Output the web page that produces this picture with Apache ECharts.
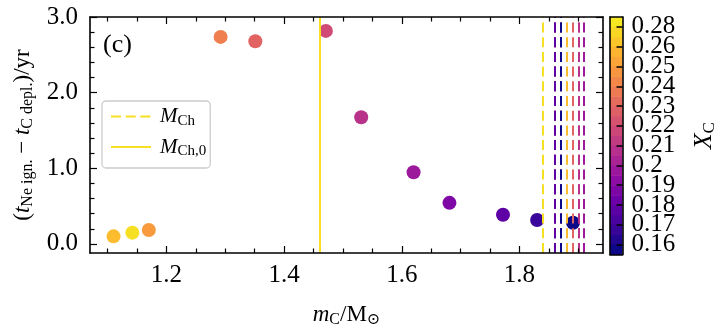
<!DOCTYPE html>
<html>
<head>
<meta charset="utf-8">
<script src="https://cdn.jsdelivr.net/npm/echarts@6/dist/echarts.min.js"></script>
<style>html,body{margin:0;padding:0;background:#fff}#c{width:724px;height:333px}</style>
</head>
<body>
<div id="c"></div>
<script>
// ---- data (one entry per model) ----
const xcValues  = [0.28, 0.26, 0.25, 0.24, 0.23, 0.22, 0.21, 0.20, 0.19, 0.18, 0.17, 0.16];
const mcValues  = [1.142, 1.110, 1.170, 1.292, 1.351, 1.471, 1.531, 1.620, 1.681, 1.772, 1.830, 1.891];
const dtValues  = [0.149, 0.100, 0.184, 2.737, 2.679, 2.816, 1.675, 0.947, 0.543, 0.386, 0.316, 0.280];
const mchValues = [1.842, 1.876, 1.872, 1.858, 1.885, 1.897, 1.902, 1.908, 1.862, 1.865, 1.866, 1.867];
const mch0Value = 1.4576;
// colorbar tick labels (bottom to top)
const cbLabels = ['0.16','0.17','0.18','0.19','0.2','0.21','0.22','0.23','0.24','0.25','0.26','0.28'];
// axis ticks
const xMajorTicks = [1.2, 1.4, 1.6, 1.8];
const xMinorTicks = [1.10, 1.15, 1.25, 1.30, 1.35, 1.45, 1.50, 1.55, 1.65, 1.70, 1.75, 1.85, 1.90];
const yMajorTicks = [0, 1, 2, 3];
const yMinorTicks = [0.2, 0.4, 0.6, 0.8, 1.2, 1.4, 1.6, 1.8, 2.2, 2.4, 2.6, 2.8];

// ---- colormap ----
const plasmaStops = ['#0d0887','#41049d','#6a00a8','#8f0da4','#b12a90','#cc4778','#e16462','#f2844b','#fca636','#fcce25','#f0f921'];
function hex2rgb(h){return [parseInt(h.slice(1,3),16),parseInt(h.slice(3,5),16),parseInt(h.slice(5,7),16)];}
function plasma(t){
  t = Math.max(0, Math.min(1, t));
  const p = t * 10, k = Math.min(9, Math.floor(p)), f = p - k;
  const a = hex2rgb(plasmaStops[k]), b = hex2rgb(plasmaStops[k+1]);
  const c = a.map((v,i)=>Math.round(v + (b[i]-v)*f));
  return 'rgb(' + c.join(',') + ')';
}
const cbVals = cbLabels.map(Number);
function colorForXc(xc){
  const r = cbVals.indexOf(xc);
  return plasma(r * 0.94 / (cbVals.length - 1));
}
const lineColor = colorForXc(0.28);

const FONT = "'Liberation Serif', 'DejaVu Serif', serif";
const TICKFS = 25;
const rich = {
  i: {fontFamily: FONT, fontStyle: 'italic', fontSize: 23, lineHeight: 26, color: '#000'},
  p: {fontFamily: FONT, fontSize: 23, lineHeight: 26, color: '#000'},
  s: {fontFamily: FONT, fontSize: 16, lineHeight: 12, verticalAlign: 'bottom', color: '#000'}
};
const legRich = {
  i: {fontFamily: FONT, fontStyle: 'italic', fontSize: 21, lineHeight: 24, color: '#000', padding:[0,0,0,4]},
  s: {fontFamily: FONT, fontSize: 15, lineHeight: 11, verticalAlign: 'bottom', color: '#000'}
};

const XMIN = 1.07, XMAX = 1.942, YMIN = -0.12, YMAX = 3.0;
const axLine = {show: true, onZero: false, lineStyle: {color: '#000', width: 1.6}};
const tickStyle = {color: '#000', width: 1.2};

function xAx(pos, major, withLabel){
  return {
    type: 'value', gridIndex: 0, position: pos, min: XMIN, max: XMAX, z: 10,
    axisLine: major ? axLine : {show: false, onZero: false},
    axisTick: {show: true, inside: true, length: major ? 7 : 4.5, lineStyle: tickStyle,
               customValues: major ? xMajorTicks : xMinorTicks},
    axisLabel: withLabel ? {show: true, customValues: xMajorTicks, margin: 10,
               formatter: v => v.toFixed(1), fontFamily: FONT, fontSize: TICKFS, color: '#000'} : {show: false},
    splitLine: {show: false},
    name: withLabel ? '{i|m}{s|C}{p|/M}{s|⊙}' : '',
    nameLocation: 'middle', nameGap: 49,
    nameTextStyle: {rich: rich}
  };
}
function yAx(pos, major, withLabel){
  return {
    type: 'value', gridIndex: 0, position: pos, min: YMIN, max: YMAX, z: 10,
    axisLine: major ? axLine : {show: false, onZero: false},
    axisTick: {show: true, inside: true, length: major ? 7 : 4.5, lineStyle: tickStyle,
               customValues: major ? yMajorTicks : yMinorTicks},
    axisLabel: withLabel ? {show: true, customValues: yMajorTicks, margin: 12,
               formatter: v => v.toFixed(1), fontFamily: FONT, fontSize: TICKFS, color: '#000'} : {show: false},
    splitLine: {show: false},
    name: withLabel ? '{p|(}{i|t}{s|Ne ign.}{p| − }{i|t}{s|C depl.}{p|)/yr}' : '',
    nameLocation: 'middle', nameRotate: 90, nameGap: 50,
    nameTextStyle: {rich: rich}
  };
}

const chart = echarts.init(document.getElementById('c'), null, {renderer: 'canvas'});
const option = {
  animation: false,
  backgroundColor: '#fff',
  title: {text: '(c)', left: 103, top: 32, padding: 0,
          textStyle: {fontFamily: FONT, fontSize: 26, fontWeight: 'normal', color: '#000'}},
  grid: [
    {left: 90, top: 17, width: 513, height: 237.5},
    {left: 610, top: 17, width: 12.5, height: 237.5}
  ],
  legend: {
    orient: 'vertical', left: 102, top: 101,
    data: ['M_Ch', 'M_Ch,0'],
    itemWidth: 40, itemHeight: 14, itemGap: 8,
    itemStyle: {opacity: 0},
    backgroundColor: '#fff', borderColor: '#cccccc', borderWidth: 1.3, borderRadius: 4,
    padding: [5, 4, 9, 8],
    formatter: n => n === 'M_Ch' ? '{i|M}{s|Ch}' : '{i|M}{s|Ch,0}',
    textStyle: {rich: legRich}
  },
  xAxis: [
    xAx('bottom', true, true), xAx('bottom', false, false),
    xAx('top', true, false), xAx('top', false, false),
    {type: 'category', gridIndex: 1, position: 'bottom', data: ['c'], z: 10,
     axisLine: axLine, axisTick: {show: false}, axisLabel: {show: false}},
    {type: 'category', gridIndex: 1, position: 'top', data: ['c'], z: 10,
     axisLine: axLine, axisTick: {show: false}, axisLabel: {show: false}}
  ],
  yAxis: [
    yAx('left', true, true), yAx('left', false, false),
    yAx('right', true, false), yAx('right', false, false),
    {type: 'category', gridIndex: 1, position: 'left', data: cbLabels, z: 10,
     axisLine: axLine, axisTick: {show: false}, axisLabel: {show: false}},
    {type: 'category', gridIndex: 1, position: 'right', data: cbLabels, z: 10,
     axisLine: axLine,
     axisTick: {show: true, inside: true, alignWithLabel: true, interval: 0, length: 6,
                lineStyle: {color: '#000', width: 1.5}},
     axisLabel: {show: true, interval: 0, margin: 9, fontFamily: FONT, fontSize: TICKFS, color: '#000'},
     name: '{i|X}{s|C}', nameLocation: 'middle', nameRotate: 90, nameGap: 68,
     nameTextStyle: {rich: {
       i: {fontFamily: FONT, fontStyle: 'italic', fontSize: 26, lineHeight: 28, color: '#000'},
       s: {fontFamily: FONT, fontSize: 17, lineHeight: 12, verticalAlign: 'bottom', color: '#000'}}}}
  ],
  series: [
    {
      name: 'M_Ch', type: 'line', xAxisIndex: 0, yAxisIndex: 0, data: [], symbol: 'none', z: 2,
      color: lineColor, lineStyle: {color: lineColor, width: 2, type: [10, 4.7]},
      markLine: {
        silent: true, symbol: ['none', 'none'], label: {show: false},
        lineStyle: {type: [10, 4.7], width: 2},
        data: mchValues.map((v, i) => ({xAxis: v, lineStyle: {color: colorForXc(xcValues[i]), type: [10, 4.7], width: 2}}))
      }
    },
    {
      name: 'M_Ch,0', type: 'line', xAxisIndex: 0, yAxisIndex: 0, data: [], symbol: 'none', z: 2,
      color: lineColor, lineStyle: {color: lineColor, width: 2, type: 'solid'},
      markLine: {
        silent: true, symbol: ['none', 'none'], label: {show: false},
        lineStyle: {type: 'solid', width: 2, color: lineColor},
        data: [{xAxis: mch0Value}]
      }
    },
    {
      name: 'models', type: 'scatter', xAxisIndex: 0, yAxisIndex: 0, z: 3,
      symbolSize: 14,
      data: mcValues.map((m, i) => ({value: [m, dtValues[i]], itemStyle: {color: colorForXc(xcValues[i]), opacity: 1}}))
    },
    {
      name: 'colorbar', type: 'custom', xAxisIndex: 4, yAxisIndex: 4, silent: true, z: 1,
      data: cbLabels.map((l, i) => [0, i]),
      renderItem: function (params, api) {
        const i = api.value(1);
        const c = api.coord([0, i]);
        const s = api.size([1, 1]);
        const w = s[0], h = s[1];
        const n = cbLabels.length * 2 - 1;
        const x0 = c[0] - w / 2;
        return {type: 'group', children: [
          {type: 'rect', shape: {x: x0, y: c[1] - h / 2, width: w, height: h / 2 + 0.5},
           style: {fill: plasma((2 * i + 1) / n * 0.96)}},
          {type: 'rect', shape: {x: x0, y: c[1], width: w, height: h / 2 + 0.5},
           style: {fill: plasma((2 * i) / n * 0.96)}}
        ]};
      }
    }
  ]
};
chart.setOption(option);
</script>
</body>
</html>
